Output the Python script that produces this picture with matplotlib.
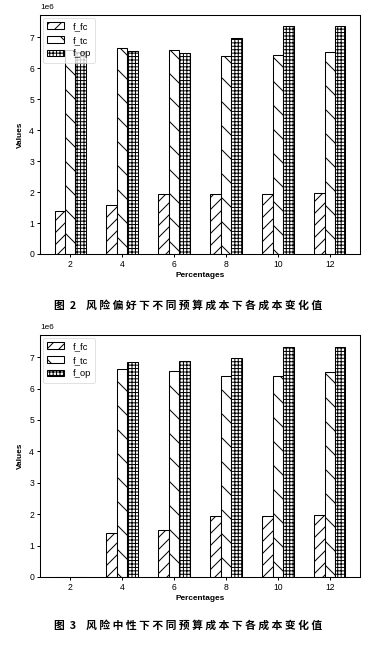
import numpy as np
import matplotlib
matplotlib.use("Agg")
import matplotlib.pyplot as plt

percentages = ["2", "4", "6", "8", "10", "12"]
series_names = ["f_fc", "f_tc", "f_op"]

# Figure 2: risk-seeking
fig2_fc = [1.40e6, 1.58e6, 1.95e6, 1.95e6, 1.95e6, 1.98e6]
fig2_tc = [6.60e6, 6.65e6, 6.58e6, 6.39e6, 6.41e6, 6.52e6]
fig2_op = [6.52e6, 6.57e6, 6.50e6, 6.97e6, 7.35e6, 7.35e6]

# Figure 3: risk-neutral
fig3_fc = [0.0, 1.40e6, 1.50e6, 1.95e6, 1.95e6, 1.98e6]
fig3_tc = [0.0, 6.63e6, 6.57e6, 6.39e6, 6.41e6, 6.52e6]
fig3_op = [0.0, 6.84e6, 6.88e6, 6.96e6, 7.33e6, 7.34e6]

caption2 = "图  2    风 险 偏 好 下 不 同 预 算 成 本 下 各 成 本 变 化 值"
caption3 = "图  3    风 险 中 性 下 不 同 预 算 成 本 下 各 成 本 变 化 值"

DPI = 144


def pt(px):
    return px * 72.0 / DPI


plt.rcParams['font.family'] = ['Liberation Sans', 'DejaVu Sans']
plt.rcParams['hatch.linewidth'] = pt(1.0)
plt.rcParams['axes.linewidth'] = pt(1.05)

fig = plt.figure(figsize=(376 / DPI, 651 / DPI), dpi=DPI)

hatches = ['////', '\\\\', '+' * 7]
W = 0.2


def draw(ax, fc, tc, op):
    x = np.arange(len(percentages))
    for i, (vals, h, name) in enumerate(zip([fc, tc, op], hatches, series_names)):
        ax.bar(x + (i - 1) * W, vals, W, color='white', edgecolor='black',
               hatch=h, linewidth=pt(1.05), label=name)
    ax.set_xticks(x)
    ax.set_xticklabels(percentages)
    ax.set_xlabel("Percentages", fontsize=pt(8.2), fontweight='bold', labelpad=pt(3.5))
    ax.set_ylabel("Values", fontsize=pt(8.2), fontweight='bold', labelpad=pt(5))
    ax.tick_params(labelsize=pt(8.6), length=pt(3.2), width=pt(1.0), pad=pt(2.7))
    ax.yaxis.get_offset_text().set_fontsize(pt(8.2))
    leg = ax.legend(loc='upper left', fontsize=pt(9.4), handlelength=1.8,
                    handleheight=0.7, borderpad=0.45, labelspacing=0.5,
                    handletextpad=0.9, borderaxespad=0.3)
    leg.get_frame().set_linewidth(pt(0.7))


ax1 = fig.add_axes([40 / 376, 1 - 254 / 651, 320 / 376, 239 / 651])
draw(ax1, fig2_fc, fig2_tc, fig2_op)
ax2 = fig.add_axes([40 / 376, 1 - 577 / 651, 320 / 376, 242 / 651])
draw(ax2, fig3_fc, fig3_tc, fig3_op)

cap_font = ['Noto Sans CJK SC', 'DejaVu Sans']
fig.text(188 / 376, 1 - 305 / 651, caption2, ha='center', va='center',
         fontsize=pt(10.8), fontweight='bold', family=cap_font)
fig.text(188 / 376, 1 - 625 / 651, caption3, ha='center', va='center',
         fontsize=pt(10.8), fontweight='bold', family=cap_font)

fig.savefig("out.png", dpi=DPI)
